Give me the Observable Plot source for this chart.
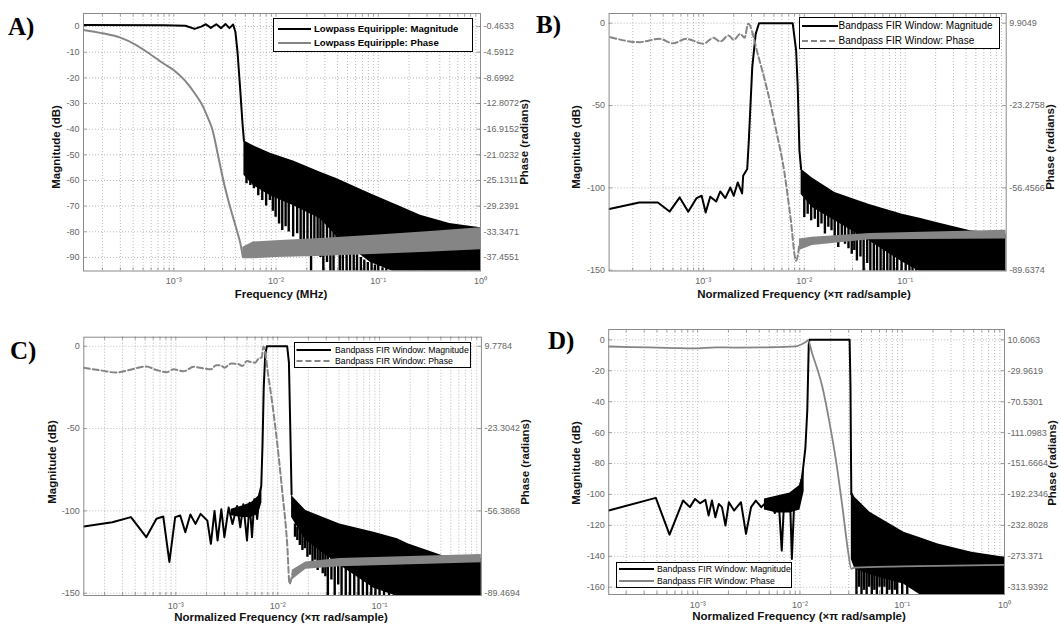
<!DOCTYPE html>
<html><head><meta charset="utf-8">
<script src="https://cdn.jsdelivr.net/npm/d3@7"></script>
<script src="https://cdn.jsdelivr.net/npm/@observablehq/plot@0.6"></script>
<style>
body{margin:0;background:#fff;}
#root{position:relative;width:1061px;height:628px;overflow:hidden;font-family:"Liberation Sans",Arial,sans-serif;background:#fff;}
.panel{position:absolute;}
.lbl{position:absolute;font-weight:bold;font-size:11.5px;color:#111;white-space:nowrap;line-height:1;}
.letter{position:absolute;font-family:"Liberation Serif","Times New Roman",serif;font-weight:bold;font-size:25px;line-height:1;}
.legend{position:absolute;background:#fff;border:1px solid #000;box-sizing:border-box;}
</style></head>
<body><div id="root"></div>
<script>
// ---------------- shared tick labels ----------------
const decadeTicks = [1e-3, 1e-2, 1e-1, 1];
const decadeLabels = ["10\u207B\u00B3", "10\u207B\u00B2", "10\u207B\u00B9", "10\u2070"];

// ---------------- Panel A: Lowpass Equiripple ----------------
const aMagTicks = [0, -10, -20, -30, -40, -50, -60, -70, -80, -90];
const aPhaseTicks = [-0.4633, -4.5912, -8.6992, -12.8072, -16.9152, -21.0232, -25.1311, -29.2391, -33.3471, -37.4551];
const aMagF  = [1.307e-4, 8e-4, 1.3e-3, 1.6e-3, 1.85e-3, 2.06e-3, 2.3e-3, 2.6e-3, 2.9e-3, 3.2e-3, 3.5e-3, 3.8e-3, 4.0e-3, 4.2e-3, 4.45e-3, 4.7e-3, 4.85e-3];
const aMagDb = [0.6, 0.5, 0.3, -0.9, 0, 0.9, -0.5, 0.9, -0.6, 1.0, -0.6, 0.8, -2, -10, -24, -38, -44.5];
const aEnvF  = [4.85e-3, 6e-3, 8.8e-3, 1.5e-2, 2.72e-2, 3.96e-2, 8.4e-2, 0.15, 0.259, 0.5, 1];
const aEnvHi = [-44.5, -46.5, -49.4, -52.5, -56.8, -59.3, -65.2, -69.5, -73.6, -76.8, -78.4];
const aEnvLo = [-58, -62, -66, -70, -75, -82, -92, -96, -96, -96, -96];
const aSpikeF   = [5.14e-3, 5.6e-3, 6.07e-3, 6.7e-3, 7.33e-3, 8.0e-3, 8.7e-3, 9.3e-3, 9.9e-3, 1.07e-2, 1.15e-2, 1.24e-2, 1.33e-2, 1.47e-2, 1.61e-2, 1.74e-2, 1.87e-2, 2.03e-2, 2.2e-2, 2.37e-2, 2.55e-2, 2.72e-2, 2.9e-2, 3.15e-2, 3.4e-2, 3.65e-2, 3.9e-2, 4.2e-2, 4.5e-2, 4.9e-2, 5.3e-2, 5.75e-2, 6.2e-2, 6.75e-2, 7.3e-2, 7.9e-2, 8.6e-2, 0.093, 0.1, 0.11, 0.12];
const aSpikeTop = [-56, -57, -59, -60, -62, -63, -64, -64, -65, -66, -67, -67, -68, -68, -69, -69, -70, -71, -71, -72, -73, -74, -74, -76, -77, -79, -80, -82, -83, -85, -86, -88, -89, -90, -91, -92, -92, -93, -93, -94, -94];
const aSpikeBot = [-61.3, -62, -63.2, -66, -67.8, -70, -67.8, -72, -74.3, -77, -79.5, -78, -80.1, -82, -80.8, -84, -84, -86, -96, -88, -86, -90, -96, -92, -96, -96, -88, -96, -96, -96, -96, -96, -96, -96, -96, -96, -96, -96, -96, -96, -96];
const aPhaseF   = [1.307e-4, 2e-4, 3e-4, 4.2e-4, 5.5e-4, 8e-4, 1e-3, 1.28e-3, 1.6e-3, 1.92e-3, 2.15e-3, 2.38e-3, 2.7e-3, 3.05e-3, 3.53e-3, 4.17e-3, 4.5e-3, 4.73e-3];
const aPhaseRad = [-0.998, -1.532, -2.231, -3.340, -4.573, -6.423, -7.451, -9.095, -11.150, -13.205, -15.055, -16.904, -21.014, -25.125, -29.235, -33.345, -35.400, -37.373];
const aBandF   = [4.73e-3, 6e-3, 1e-2, 3e-2, 0.1, 0.3, 1];
const aBandTop = [-35.811, -34.989, -34.784, -34.373, -33.880, -33.345, -32.687];
const aBandBot = [-37.661, -37.661, -37.455, -37.250, -36.962, -36.633, -36.222];

// ---------------- Panel B: Bandpass FIR Window ----------------
const bMagTicks = [0, -50, -100, -150];
const bPhaseTicks = [9.9049, -23.2758, -56.4566, -89.6374];
const bMagF  = [1.17e-4, 2.32e-4, 3.54e-4, 4.63e-4, 5.83e-4, 7.08e-4, 8.57e-4, 9.62e-4, 1.054e-3, 1.17e-3, 1.34e-3, 1.47e-3, 1.65e-3, 1.85e-3, 2.0e-3, 2.19e-3, 2.42e-3, 2.48e-3, 2.72e-3, 2.82e-3, 3.05e-3, 3.3e-3, 3.56e-3, 7.67e-3, 8.3e-3, 8.61e-3, 8.95e-3, 9.3e-3];
const bMagDb = [-112.9, -108.9, -108.9, -114.4, -105.8, -114.5, -106.2, -104.8, -115, -105.4, -108.3, -102.2, -106.2, -99.8, -104.8, -96.7, -103.4, -92.6, -88.6, -71.4, -26.8, -6.5, 0, 0, -16.6, -38.9, -77.4, -88.6];
const bEnvF  = [9.3e-3, 1.2e-2, 2.01e-2, 4.33e-2, 9.35e-2, 0.14, 0.204, 0.443, 1];
const bEnvHi = [-88.6, -94, -102.8, -109.9, -116, -118.5, -121, -126.1, -128];
const bEnvLo = [-104, -112, -120, -132, -145, -151, -151, -151, -151];
const bSpikeF   = [1.0e-2, 1.08e-2, 1.17e-2, 1.27e-2, 1.37e-2, 1.48e-2, 1.6e-2, 1.73e-2, 1.86e-2, 2.0e-2, 2.17e-2, 2.35e-2, 2.53e-2, 2.74e-2, 2.95e-2, 3.13e-2, 3.32e-2, 3.6e-2, 3.87e-2, 4.2e-2, 4.51e-2, 4.88e-2, 5.26e-2, 5.7e-2, 6.13e-2, 6.64e-2, 7.14e-2, 7.7e-2, 8.33e-2, 9.2e-2, 0.101, 0.11, 0.118, 0.128];
const bSpikeTop = [-106, -108, -110, -111, -113, -114, -115, -116, -117, -118, -119, -120, -122, -123, -124, -126, -127, -128, -129, -130, -131, -132, -133, -134, -135, -136, -137, -138, -139, -140, -142, -143, -144, -145];
const bSpikeBot = [-118, -116, -120, -119, -124.1, -122, -128.1, -124, -126, -130, -136.3, -130, -134.2, -137, -140.3, -138, -144.4, -142, -151, -146, -151, -151, -151, -151, -151, -151, -151, -151, -151, -151, -151, -151, -151, -151];
const bPhaseF   = [1.2e-4, 2.32e-4, 3.68e-4, 5.0e-4, 6.8e-4, 1.0e-3, 1.26e-3, 1.47e-3, 1.78e-3, 2.0e-3, 2.33e-3, 2.56e-3, 2.78e-3, 3.5e-3, 4.31e-3, 5.3e-3, 6.33e-3, 7.3e-3, 8.3e-3, 8.95e-3];
const bPhaseRad = [4.264, 2.273, 3.600, 1.809, 3.600, 1.610, 3.999, 2.539, 4.928, 3.202, 5.591, 3.999, 9.640, -3.367, -17.237, -33.894, -49.820, -68.402, -85.856, -79.019];
const bBandF   = [8.95e-3, 1.2e-2, 4.5e-2, 1];
const bBandTop = [-77.029, -76.365, -74.839, -73.576];
const bBandBot = [-81.674, -79.683, -77.361, -77.029];

// ---------------- Panel C: Bandpass FIR Window ----------------
const cMagTicks = [0, -50, -100, -150];
const cPhaseTicks = [9.7784, -23.3042, -56.3868, -89.4694];
const cMagF  = [1.25e-4, 2.38e-4, 3.63e-4, 5.13e-4, 6.46e-4, 7.53e-4, 8.65e-4, 9.86e-4, 1.106e-3, 1.24e-3, 1.39e-3, 1.56e-3, 1.75e-3, 2.04e-3, 2.21e-3, 2.4e-3, 2.57e-3, 2.8e-3, 3.0e-3, 3.3e-3, 3.6e-3, 4.0e-3, 4.3e-3, 4.6e-3, 5.0e-3, 5.3e-3, 5.6e-3, 5.9e-3, 6.3e-3, 6.6e-3, 6.9e-3, 7.1e-3, 7.3e-3, 7.55e-3, 7.83e-3, 1.24e-2, 1.29e-2, 1.33e-2, 1.37e-2];
const cMagDb = [-109.5, -106.9, -103.8, -116, -104.8, -103.4, -131, -103.8, -102.8, -113, -102.2, -107.9, -101.8, -105.9, -120, -100, -118, -99, -116, -98, -108, -97, -110, -96, -118, -95, -116, -93, -105, -90, -85, -60, -25, -5, 0, 0, -10, -50, -90];
const cPreF  = [3.5e-3, 4.5e-3, 5.5e-3, 6.5e-3, 7.0e-3];
const cPreHi = [-99, -97, -95, -91, -85];
const cPreLo = [-103, -104, -104, -102, -95];
const cEnvF  = [1.37e-2, 1.89e-2, 4.07e-2, 8.8e-2, 0.15, 0.19, 0.46, 1];
const cEnvHi = [-90.7, -99.8, -107.9, -113, -117, -120, -128.2, -129];
const cEnvLo = [-104, -118, -133, -147, -152, -152, -152, -152];
const cSpikeF   = [1.48e-2, 1.56e-2, 1.65e-2, 1.75e-2, 1.85e-2, 1.96e-2, 2.08e-2, 2.2e-2, 2.33e-2, 2.47e-2, 2.62e-2, 2.77e-2, 2.94e-2, 3.11e-2, 3.37e-2, 3.63e-2, 3.93e-2, 4.24e-2, 4.66e-2, 5.13e-2, 5.65e-2, 6.22e-2, 6.85e-2, 7.54e-2, 8.3e-2, 9.12e-2, 0.1, 0.1107, 0.124, 0.139];
const cSpikeTop = [-108, -110, -111, -112, -113, -114, -116, -117, -118, -119, -120, -121, -123, -124, -126, -128, -130, -132, -134, -136, -138, -140, -141, -142, -144, -145, -146, -147, -148, -149];
const cSpikeBot = [-116, -118, -121, -124.1, -123, -128.2, -127, -132.2, -130, -136.2, -134, -138.2, -140, -152, -142, -152, -145, -152, -152, -152, -152, -152, -152, -152, -152, -152, -152, -152, -152, -152];
const cPhaseF   = [1.25e-4, 1.89e-4, 2.57e-4, 3.5e-4, 5.13e-4, 6.46e-4, 8.13e-4, 9.5e-4, 1.19e-3, 1.5e-3, 1.89e-3, 2.2e-3, 2.5e-3, 2.78e-3, 3.0e-3, 3.5e-3, 4.07e-3, 4.5e-3, 5.0e-3, 5.54e-3, 6.0e-3, 6.5e-3, 6.98e-3, 7.25e-3, 8.13e-3, 9.49e-3, 1.107e-2, 1.24e-2, 1.31e-2, 1.39e-2];
const cPhaseRad = [1.111, -0.014, -0.808, 0.251, 1.640, 0.251, -0.676, 0.515, -0.279, 1.508, 0.846, 0.515, 2.169, 2.037, 1.177, 2.831, 2.699, 1.839, 3.823, 3.360, 3.162, 4.816, 5.345, 9.646, -2.661, -22.775, -48.182, -69.620, -85.699, -81.663];
const cBandF   = [1.39e-2, 1.89e-2, 4.07e-2, 1];
const cBandTop = [-80.207, -76.898, -75.575, -73.920];
const cBandBot = [-84.177, -79.876, -78.883, -77.228];

// ---------------- Panel D: Bandpass FIR Window ----------------
const dMagTicks = [0, -20, -40, -60, -80, -100, -120, -140, -160];
const dPhaseTicks = [10.6063, -29.9619, -70.5301, -111.0983, -151.6664, -192.2346, -232.8028, -273.371, -313.9392];
const dMagF  = [1.35e-4, 3.9e-4, 5.31e-4, 7.2e-4, 8.4e-4, 9.42e-4, 1.057e-3, 1.19e-3, 1.28e-3, 1.38e-3, 1.49e-3, 1.61e-3, 1.73e-3, 1.87e-3, 2.02e-3, 2.27e-3, 2.65e-3, 2.97e-3, 3.33e-3, 3.7e-3, 4.19e-3, 4.88e-3, 5.69e-3, 6.2e-3, 6.64e-3, 7.0e-3, 7.44e-3, 8.0e-3, 8.34e-3, 8.8e-3, 9.71e-3, 1.05e-2, 1.13e-2, 1.18e-2, 1.22e-2, 1.24e-2, 3.06e-2, 3.12e-2, 3.16e-2, 3.18e-2];
const dMagDb = [-110.4, -102.2, -126, -103.9, -108.2, -102.9, -105.7, -103.5, -113.6, -103.9, -114.7, -106.1, -108.2, -120.1, -105, -110.4, -105, -125.5, -108.2, -104, -108.2, -103.9, -112, -104, -136.3, -104, -106, -102, -141.7, -104, -97.5, -88.8, -70, -45.7, -2.6, 0, 0, -30, -80, -100];
const dPreF  = [4.5e-3, 6e-3, 8e-3, 1.0e-2, 1.1e-2];
const dPreHi = [-103, -101, -99, -94, -82];
const dPreLo = [-110, -112, -112, -110, -98];
const dEnvF  = [3.18e-2, 3.44e-2, 4.84e-2, 0.104, 0.15, 0.224, 0.48, 1];
const dEnvHi = [-97.5, -101.8, -111.5, -124.4, -128, -132, -137.4, -140.6];
const dEnvLo = [-142, -148, -152, -158, -165, -165, -165, -165];
const dSpikeF   = [3.57e-2, 3.78e-2, 4.0e-2, 4.24e-2, 4.49e-2, 4.76e-2, 5.04e-2, 5.34e-2, 5.65e-2, 6.0e-2, 6.34e-2, 6.7e-2, 7.1e-2, 7.5e-2, 7.96e-2, 8.45e-2, 8.93e-2, 0.1, 0.112, 0.131, 0.153, 0.178, 0.207, 0.242];
const dSpikeTop = [-140, -141, -142, -143, -145, -146, -148, -149, -150, -151, -152, -152, -153, -153, -154, -154, -155, -156, -157, -158, -158, -158, -158, -158];
const dSpikeBot = [-165, -160, -165, -162, -165, -160, -165, -162, -165, -160, -165, -160, -165, -162, -165, -162, -165, -165, -165, -160, -165, -160, -165, -165];
const dPhaseF   = [1.35e-4, 3.35e-4, 6e-4, 9.06e-4, 1.5e-3, 2.27e-3, 4.88e-3, 8.99e-3, 1.13e-2, 1.2e-2, 1.32e-2, 1.66e-2, 1.93e-2, 2.25e-2, 2.63e-2, 2.95e-2, 3.18e-2, 3.4e-2, 0.1, 1];
const dPhaseRad = [1.884, 0.667, -0.144, -0.550, 0.870, 0.464, 0.870, 2.087, 7.564, 9.795, -7.650, -51.668, -95.277, -147.610, -213.330, -265.866, -289.800, -288.177, -286.554, -284.526];

// ---------------- drawing ----------------
const root = document.getElementById("root");
const zip = (...cols) => cols[0].map((_, i) => cols.map(c => c[i]));
const GRAY = "#858585";

function drawPanel(p) {
  const m0 = p.magTicks[0], mN = p.magTicks[p.magTicks.length - 1];
  const p0 = p.phaseTicks[0], pN = p.phaseTicks[p.phaseTicks.length - 1];
  const toY = r => m0 + (r - p0) * (mN - m0) / (pN - p0);
  const phaseLabel = new Map(p.magTicks.map((m, i) => [m, String(p.phaseTicks[i])]));
  const xLabel = new Map(decadeTicks.map((v, i) => [v, decadeLabels[i]]));
  const xTicks = decadeTicks.filter((v, i) => i < p.nXTicks);
  const minor = [];
  for (let e = -5; e <= 0; e++) for (let k = 1; k <= 9; k++) {
    const v = k * Math.pow(10, e);
    if (v > p.xDomain[0] * 1.001 && v < p.xDomain[1] * 0.999) minor.push(v);
  }
  const fw = p.width - p.ml - p.mr, fh = p.height - p.mt - p.mb;
  const ySpan = p.yDomain[1] - p.yDomain[0];
  const tick = ySpan * 3 / fh;
  const decPx = fw / Math.log10(p.xDomain[1] / p.xDomain[0]);
  const xTick = Math.pow(10, 3.5 / decPx);

  const mag = zip(p.magF, p.magDb);
  const env = zip(p.envF, p.envHi, p.envLo);
  const spikes = zip(p.spikeF, p.spikeTop, p.spikeBot);
  const phase = zip(p.phaseF, p.phaseRad);
  const marks = [
    Plot.ruleX(minor, {stroke: "#a8a8a8", strokeWidth: 0.8, strokeDasharray: "1,2"}),
    Plot.ruleY(p.magTicks, {stroke: "#a8a8a8", strokeWidth: 0.8, strokeDasharray: "1,2"}),
    Plot.ruleX(minor, {x: d => d, y1: p.yDomain[0], y2: p.yDomain[0] + tick, stroke: "#888", strokeWidth: 0.8}),
    Plot.ruleX(minor, {x: d => d, y1: p.yDomain[1], y2: p.yDomain[1] - tick, stroke: "#888", strokeWidth: 0.8}),
    Plot.ruleY(p.magTicks, {y: d => d, x1: p.xDomain[0], x2: p.xDomain[0] * xTick, stroke: "#888", strokeWidth: 0.8}),
    Plot.ruleY(p.magTicks, {y: d => d, x1: p.xDomain[1] / xTick, x2: p.xDomain[1], stroke: "#888", strokeWidth: 0.8}),
  ];
  if (p.preF) {
    marks.push(Plot.areaY(zip(p.preF, p.preHi, p.preLo), {x: d => d[0], y1: d => d[2], y2: d => d[1], fill: "#000", clip: true}));
  }
  marks.push(
    Plot.areaY(env, {x: d => d[0], y1: d => d[2], y2: d => d[1], fill: "#000", clip: true}),
    Plot.ruleX(spikes, {x: d => d[0], y1: d => d[2], y2: d => d[1], stroke: "#000", strokeWidth: 2.4, clip: true}),
    Plot.line(mag, {x: d => d[0], y: d => d[1], stroke: "#000", strokeWidth: 2, clip: true})
  );
  if (p.bandF) {
    const band = zip(p.bandF, p.bandTop, p.bandBot);
    marks.push(Plot.areaY(band, {x: d => d[0], y1: d => toY(d[2]), y2: d => toY(d[1]), fill: GRAY, clip: true}));
  }
  marks.push(
    Plot.line(phase, {x: d => d[0], y: d => toY(d[1]), stroke: GRAY, strokeWidth: p.phaseWidth, strokeDasharray: p.dash || null, curve: "monotone-x", clip: true}),
    Plot.frame({stroke: "#8a8a8a", strokeWidth: 1}),
    Plot.axisX(xTicks, {anchor: "bottom", tickSize: 0, tickPadding: 7, tickFormat: d => xLabel.get(d), fontSize: 9, color: "#666", label: null}),
    Plot.axisY(p.magTicks, {anchor: "left", tickSize: 0, tickPadding: 4, tickFormat: d => String(d), fontSize: 9, color: "#666", label: null}),
    Plot.axisY(p.magTicks, {anchor: "right", tickSize: 0, tickPadding: 3, tickFormat: d => phaseLabel.get(d), fontSize: 9, color: "#666", label: null})
  );
  const svg = Plot.plot({
    width: p.width, height: p.height,
    marginLeft: p.ml, marginRight: p.mr, marginTop: p.mt, marginBottom: p.mb,
    x: {type: "log", domain: p.xDomain},
    y: {domain: p.yDomain},
    style: {fontFamily: "'Liberation Sans', Arial, sans-serif", background: "transparent", overflow: "visible"},
    marks
  });
  svg.classList.add("panel");
  svg.style.left = p.left + "px";
  svg.style.top = p.top + "px";
  root.appendChild(svg);
}

function label(text, x, y, vertical) {
  const d = document.createElement("div");
  d.className = "lbl";
  d.textContent = text;
  d.style.left = x + "px"; d.style.top = y + "px";
  d.style.transform = vertical ? "translate(-50%,-50%) rotate(-90deg)" : "translate(-50%,-50%)";
  root.appendChild(d);
}
function letter(text, x, y) {
  const d = document.createElement("div");
  d.className = "letter"; d.textContent = text;
  d.style.left = x + "px"; d.style.top = y + "px";
  root.appendChild(d);
}
function legend(o) {
  const box = document.createElement("div");
  box.className = "legend";
  Object.assign(box.style, {left: o.left + "px", top: o.top + "px", width: o.width + "px", height: o.height + "px",
    font: (o.bold ? "bold " : "") + o.fs + "px 'Liberation Sans', Arial, sans-serif"});
  o.rows.forEach(r => {
    box.insertAdjacentHTML("beforeend",
      `<svg style="position:absolute;left:0;top:${r.y - 4}px" width="${o.textX}" height="8"><line x1="${o.x0}" x2="${o.x1}" y1="4" y2="4" stroke="${r.stroke}" stroke-width="2" ${r.dash ? `stroke-dasharray="${r.dash}"` : ""}/></svg>` +
      `<div style="position:absolute;left:${o.textX}px;top:${r.y}px;transform:translateY(-50%);white-space:nowrap;line-height:1;color:#000">${r.label}</div>`);
  });
  root.appendChild(box);
}

drawPanel({left: 0, top: 0, width: 530, height: 310, ml: 83, mr: 50, mt: 13, mb: 39.5,
  xDomain: [1.307e-4, 1], yDomain: [-95.3, 5.1], nXTicks: 4,
  magTicks: aMagTicks, phaseTicks: aPhaseTicks, magF: aMagF, magDb: aMagDb,
  envF: aEnvF, envHi: aEnvHi, envLo: aEnvLo, spikeF: aSpikeF, spikeTop: aSpikeTop, spikeBot: aSpikeBot,
  phaseF: aPhaseF, phaseRad: aPhaseRad, bandF: aBandF, bandTop: aBandTop, bandBot: aBandBot, phaseWidth: 2});
drawPanel({left: 530, top: 0, width: 531, height: 310, ml: 78.6, mr: 55.3, mt: 13, mb: 39.5,
  xDomain: [1.165e-4, 1], yDomain: [-150.5, 5.9], nXTicks: 3,
  magTicks: bMagTicks, phaseTicks: bPhaseTicks, magF: bMagF, magDb: bMagDb,
  envF: bEnvF, envHi: bEnvHi, envLo: bEnvLo, spikeF: bSpikeF, spikeTop: bSpikeTop, spikeBot: bSpikeBot,
  phaseF: bPhaseF, phaseRad: bPhaseRad, bandF: bBandF, bandTop: bBandTop, bandBot: bBandBot, phaseWidth: 2, dash: "6,3"});
drawPanel({left: 0, top: 310, width: 530, height: 318, ml: 83.3, mr: 49.1, mt: 26.7, mb: 33,
  xDomain: [1.25e-4, 1], yDomain: [-151.4, 5.5], nXTicks: 3,
  magTicks: cMagTicks, phaseTicks: cPhaseTicks, magF: cMagF, magDb: cMagDb,
  preF: cPreF, preHi: cPreHi, preLo: cPreLo,
  envF: cEnvF, envHi: cEnvHi, envLo: cEnvLo, spikeF: cSpikeF, spikeTop: cSpikeTop, spikeBot: cSpikeBot,
  phaseF: cPhaseF, phaseRad: cPhaseRad, bandF: cBandF, bandTop: cBandTop, bandBot: cBandBot, phaseWidth: 2, dash: "6,3"});
drawPanel({left: 530, top: 310, width: 531, height: 318, ml: 78.2, mr: 57, mt: 19, mb: 34,
  xDomain: [1.35e-4, 1], yDomain: [-164.7, 6.7], nXTicks: 4,
  magTicks: dMagTicks, phaseTicks: dPhaseTicks, magF: dMagF, magDb: dMagDb,
  preF: dPreF, preHi: dPreHi, preLo: dPreLo,
  envF: dEnvF, envHi: dEnvHi, envLo: dEnvLo, spikeF: dSpikeF, spikeTop: dSpikeTop, spikeBot: dSpikeBot,
  phaseF: dPhaseF, phaseRad: dPhaseRad, phaseWidth: 1.8});

// axis titles
label("Magnitude (dB)", 57, 147, true);
label("Frequency (MHz)", 281, 295, false);
label("Phase (radians)", 525, 142, true);
label("Magnitude (dB)", 577, 147, true);
label("Normalized Frequency (\u00D7\u03C0 rad/sample)", 804, 295, false);
label("Phase (radians)", 1051, 147, true);
label("Magnitude (dB)", 53, 462, true);
label("Normalized Frequency (\u00D7\u03C0 rad/sample)", 281, 618, false);
label("Phase (radians)", 526, 462, true);
label("Magnitude (dB)", 577, 463, true);
label("Normalized Frequency (\u00D7\u03C0 rad/sample)", 799, 617, false);
label("Phase (radians)", 1053, 463, true);

letter("A)", 8, 14);
letter("B)", 536, 12);
letter("C)", 10, 338);
letter("D)", 548, 328);

legend({left: 273, top: 18, width: 200, height: 34, fs: 9.6, bold: true, x0: 4, x1: 37, textX: 40,
  rows: [{y: 10, stroke: "#000", label: "Lowpass Equiripple: Magnitude"}, {y: 24, stroke: GRAY, label: "Lowpass Equiripple: Phase"}]});
legend({left: 798.6, top: 17, width: 201.5, height: 32, fs: 10, bold: false, x0: 2, x1: 38, textX: 39,
  rows: [{y: 8, stroke: "#000", label: "Bandpass FIR Window: Magnitude"}, {y: 23, stroke: GRAY, dash: "6,3", label: "Bandpass FIR Window: Phase"}]});
legend({left: 294, top: 342, width: 177, height: 26, fs: 8.7, bold: false, x0: 1.5, x1: 36, textX: 40,
  rows: [{y: 6.5, stroke: "#000", label: "Bandpass FIR Window: Magnitude"}, {y: 18, stroke: GRAY, dash: "6,3", label: "Bandpass FIR Window: Phase"}]});
legend({left: 616.4, top: 561.7, width: 175.4, height: 26, fs: 8.7, bold: false, x0: 2, x1: 37, textX: 39.6,
  rows: [{y: 6, stroke: "#000", label: "Bandpass FIR Window: Magnitude"}, {y: 18.3, stroke: GRAY, label: "Bandpass FIR Window: Phase"}]});
</script>
</body></html>
